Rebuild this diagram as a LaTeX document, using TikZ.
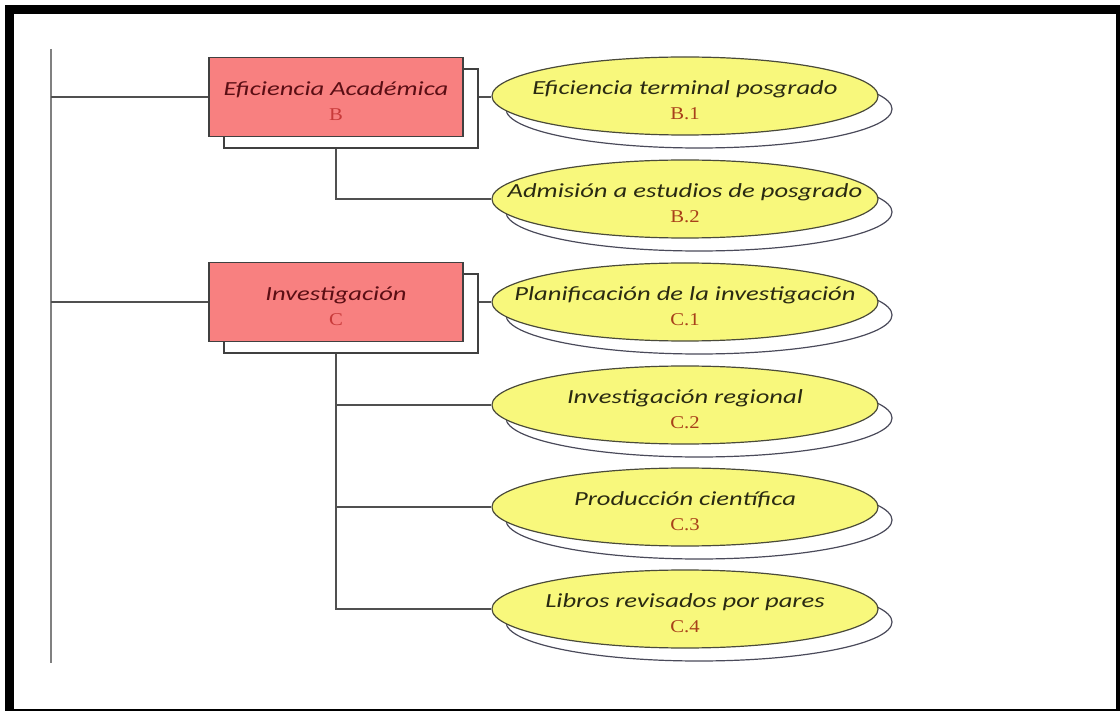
\documentclass[tikz,border=0pt]{standalone}
\usepackage{fontspec}
\newfontfamily\lblfont[FakeStretch=1.33]{Carlito}
\newfontfamily\codefont[FakeStretch=1.15]{Liberation Serif}
\usetikzlibrary{shapes.geometric,shadows,backgrounds}

\definecolor{boxred}{HTML}{F88080}
\definecolor{boxline}{HTML}{404040}
\definecolor{boxtext}{HTML}{5A0E14}
\definecolor{boxcode}{HTML}{C83A3A}
\definecolor{ellfill}{HTML}{F8F87C}
\definecolor{elline}{HTML}{4A4A3A}
\definecolor{shadline}{HTML}{4A4A5A}
\definecolor{elltext}{HTML}{2A2A12}
\definecolor{ellcode}{HTML}{A8401A}
\definecolor{trunkgray}{HTML}{808080}
\definecolor{connline}{HTML}{505050}

\tikzset{
  catbox/.style={draw=boxline, line width=1.2pt, fill=boxred,
    minimum width=254pt, minimum height=79pt, inner sep=0pt,
    copy shadow={shadow xshift=15pt, shadow yshift=-11.5pt, fill=white,
      draw=boxline, line width=1.2pt}},
  itembox/.style={ellipse, draw=elline, line width=1.2pt, fill=ellfill,
    minimum width=386pt, minimum height=78pt, inner sep=0pt,
    copy shadow={shadow xshift=14pt, shadow yshift=-13pt, fill=white,
      draw=shadline, line width=1.2pt}},
  cattext/.style={align=center, inner sep=0pt, text=boxtext, yshift=-4pt,
    font=\lblfont\itshape\fontsize{20}{25}\selectfont},
  itemtext/.style={align=center, inner sep=0pt, text=elltext, yshift=-4pt,
    font=\lblfont\itshape\fontsize{20}{25}\selectfont},
  conn/.style={draw=connline, line width=1.2pt},
  trunk/.style={draw=trunkgray, line width=1.6pt},
}

% second line of every label: the code letter in upright serif
\newcommand{\codeline}[2]{{\codefont\upshape\fontsize{18}{25}\selectfont\color{#1}#2}}

\begin{document}
\begin{tikzpicture}[x=1pt,y=-1pt]
\useasboundingbox (0,0) rectangle (1120,711);

% categories
\node[catbox, label={[cattext]center:Eficiencia Académica\\\codeline{boxcode}{B}}] (B) at (336,97) {};
\node[catbox, label={[cattext]center:Investigación\\\codeline{boxcode}{C}}] (C) at (336,302) {};

% indicators
\node[itembox, label={[itemtext]center:Eficiencia terminal posgrado\\\codeline{ellcode}{B.1}}] (b1) at (685,96) {};
\node[itembox, label={[itemtext]center:Admisión a estudios de posgrado\\\codeline{ellcode}{B.2}}] (b2) at (685,199) {};
\node[itembox, label={[itemtext]center:Planificación de la investigación\\\codeline{ellcode}{C.1}}] (c1) at (685,302) {};
\node[itembox, label={[itemtext]center:Investigación regional\\\codeline{ellcode}{C.2}}] (c2) at (685,405) {};
\node[itembox, label={[itemtext]center:Producción científica\\\codeline{ellcode}{C.3}}] (c3) at (685,507) {};
\node[itembox, label={[itemtext]center:Libros revisados por pares\\\codeline{ellcode}{C.4}}] (c4) at (685,609) {};

\coordinate (top) at (51,49);
\coordinate (bot) at (51,663);

\begin{pgfonlayer}{background}
  % page frame
  \fill[black] (5,5) rectangle (1120,711);
  \fill[white] (14,14) rectangle (1116,709);
  % trunk and branches
  \draw[trunk] (top) -- (bot);
  \draw[conn] (B.west -| top) -- (B.west);
  \draw[conn] (C.west -| top) -- (C.west);
  % category to indicators
  \draw[conn] (B.east) -- (B.east -| b1.west);
  \draw[conn] (B.south) |- (b2.west);
  \draw[conn] (C.east) -- (C.east -| c1.west);
  \draw[conn] (C.south) |- (c2.west);
  \draw[conn] (C.south) |- (c3.west);
  \draw[conn] (C.south) |- (c4.west);
\end{pgfonlayer}
\end{tikzpicture}
\end{document}
